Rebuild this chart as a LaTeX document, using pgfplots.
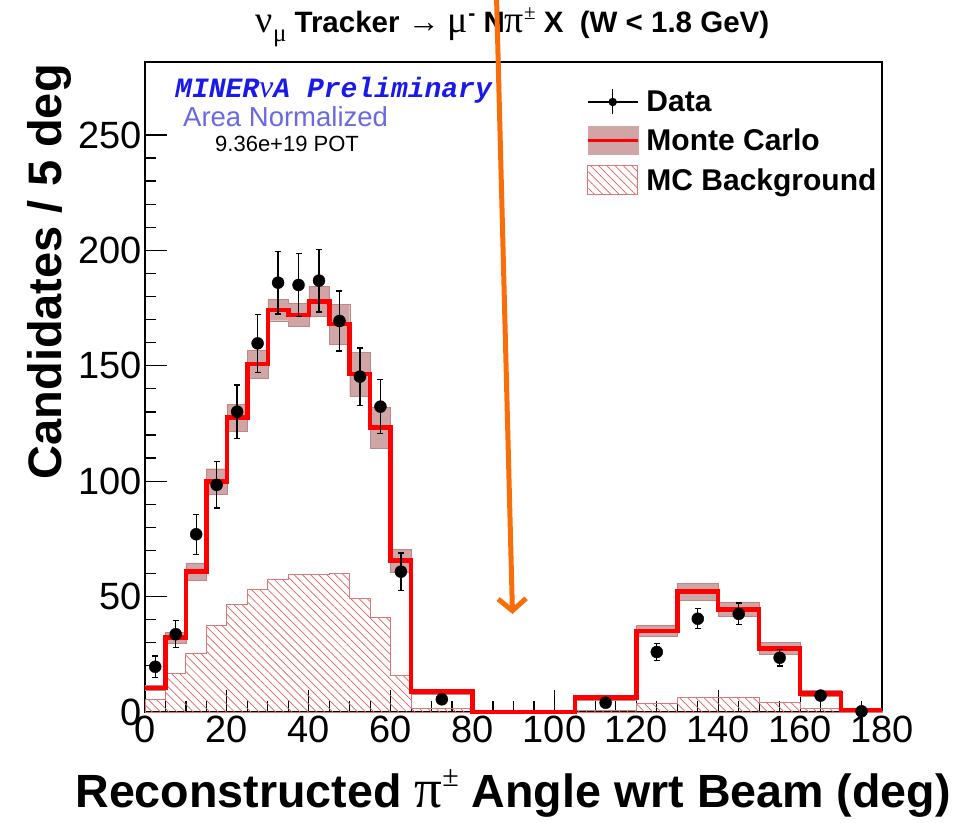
\documentclass[border=0pt]{standalone}
\usepackage{fontspec}
\setmainfont{Liberation Sans}
\newfontfamily\grfont{Liberation Serif}
\newfontfamily\cfont{Liberation Mono}
\newcommand{\gr}{\grfont\mdseries}
\usepackage{pgfplots}
\usepackage{pgfplotstable}
\pgfplotsset{compat=1.18}
\usepgfplotslibrary{fillbetween}
\usetikzlibrary{patterns.meta,arrows.meta}

\definecolor{band}{RGB}{208,165,165}
\definecolor{bandedge}{RGB}{190,135,135}
\definecolor{hatch}{RGB}{228,95,95}
\definecolor{hatchedge}{RGB}{220,120,120}
\definecolor{arrowor}{RGB}{250,110,10}
\definecolor{prelim}{RGB}{25,25,235}
\definecolor{areanorm}{RGB}{105,105,225}

\pgfplotstableread{
x mc err bg
0 10.5 1.0 5.5
5 32.2 2.2 16.8
10 60.8 3.8 25.4
15 99.8 5.6 37.3
20 127.5 5.8 46.6
25 150.8 6.1 52.9
30 174.2 4.7 57.6
35 172.0 4.9 59.4
40 177.8 6.5 59.4
45 168.0 8.7 60.1
50 146.4 9.5 49.3
55 123.3 8.9 40.9
60 65.6 5.0 16.0
65 8.8 1.0 1.6
80 0 0 0
105 6.3 1.0 0.8
120 35.1 2.4 3.5
130 52.1 3.6 6.2
140 44.5 3.2 6.2
150 27.6 2.6 4.0
160 8.1 1.2 1.4
170 0.9 0.4 0.3
180 0.9 0.4 0.3
}\mctab

\pgfplotstableread{
x y e
2.5 19.6 4.6
7.5 33.7 5.9
12.5 77.0 8.7
17.5 98.4 10.0
22.5 130.1 11.5
27.5 159.7 12.5
32.5 186.0 13.6
37.5 185.0 13.6
42.5 186.9 13.6
47.5 169.4 13.0
52.5 145.3 12.4
57.5 132.3 11.6
62.5 60.8 8.1
72.5 5.5 1.4
112.5 4.0 1.0
125 26.0 3.6
135 40.4 4.3
145 42.5 4.7
155 23.5 3.6
165 7.1 2.0
175 0.3 0.5
}\datatab

\begin{document}
\begin{tikzpicture}
\begin{axis}[
  at={(0,0)}, anchor=south west,
  scale only axis, width=737pt, height=650pt,
  xmin=0, xmax=180, ymin=0, ymax=281.6,
  xtick={0,20,...,180}, minor x tick num=3,
  ytick={0,50,...,250}, minor y tick num=4,
  xtick pos=bottom, ytick pos=left,
  tick align=inside,
  major tick length=22pt, minor tick length=11pt,
  axis line style={line width=2pt},
  every tick/.style={black, line width=1.2pt},
  tick label style={font=\fontsize{38}{40}\selectfont},
  /pgf/number format/assume math mode=true,
  clip=false,
  legend style={at={(0.594,0.962)}, anchor=north west, draw=none, fill=none,
    font=\bfseries\fontsize{30}{32}\selectfont, row sep=11pt,
    nodes={inner sep=1pt}, column sep=6pt},
  legend cell align=left,
]
\addplot[const plot, draw=bandedge, line width=0.4pt, name path=up, forget plot]
  table[x=x, y expr=\thisrow{mc}+\thisrow{err}] {\mctab};
\addplot[const plot, draw=bandedge, line width=0.4pt, name path=lo, forget plot]
  table[x=x, y expr=\thisrow{mc}-\thisrow{err}] {\mctab};
\addplot[band, forget plot] fill between[of=up and lo];
\addplot[const plot, draw=hatchedge, line width=0.9pt,
  pattern={Lines[angle=-45,distance=5.8pt,line width=0.7pt]}, pattern color=hatch, forget plot]
  table[x=x, y=bg] {\mctab} \closedcycle;
\addplot[const plot, red, line width=4.5pt, forget plot] table[x=x, y=mc] {\mctab};
\addplot[only marks, mark=*, mark size=6pt, black, forget plot,
  error bars/.cd, y dir=both, y explicit, error mark=-,
  error bar style={line width=1.3pt, black},
  error mark options={line width=1.3pt, mark size=3pt, black, rotate=90}]
  table[x=x, y=y, y error=e] {\datatab};

\addlegendimage{legend image code/.code={
  \draw[line width=1.2pt] (0pt,0pt) -- (50pt,0pt);
  \draw[line width=1.2pt] (25pt,-12.5pt) -- (25pt,12.5pt);
  \fill (25pt,0pt) circle (4pt);}}
\addlegendentry{Data}
\addlegendimage{legend image code/.code={
  \fill[band] (0pt,-14pt) rectangle (50pt,14pt);
  \draw[red, line width=3.5pt] (0pt,0pt) -- (50pt,0pt);}}
\addlegendentry{Monte Carlo}
\addlegendimage{legend image code/.code={
  \draw[hatchedge, line width=0.9pt, pattern={Lines[angle=-45,distance=5.8pt,line width=0.7pt]}, pattern color=hatch]
   (0pt,-14.5pt) rectangle (50pt,14.5pt);}}
\addlegendentry{MC Background}
\end{axis}

% texts
\node[anchor=base, font=\bfseries\fontsize{29.5}{31}\selectfont] at (367.5pt,679pt)
  {{\gr\fontsize{38}{38}\selectfont ν}\raisebox{-0.3em}{\gr\fontsize{25}{25}\selectfont μ} Tracker {\gr\fontsize{32}{32}\selectfont →} {\gr\fontsize{38}{38}\selectfont μ}\raisebox{0.42em}{\fontsize{21}{21}\selectfont -} N{\gr\fontsize{38}{38}\selectfont π}\raisebox{0.45em}{\gr\fontsize{21}{21}\selectfont ±} X\ \ (W < 1.8 GeV)};
\node[anchor=base west, inner sep=0pt, text=prelim, font=\cfont\bfseries\itshape\fontsize{28}{30}\selectfont] at (30pt,614pt)
  {MINER{\gr\itshape\fontsize{32}{32}\selectfont ν}A Preliminary};
\node[anchor=base west, inner sep=0pt, text=areanorm, font=\fontsize{27.5}{30}\selectfont] at (38pt,585pt) {Area Normalized};
\node[anchor=base west, inner sep=0pt, font=\fontsize{22}{24}\selectfont] at (70pt,560pt) {9.36e+19 POT};
\node[anchor=base east, inner sep=0pt, font=\bfseries\fontsize{46.6}{50}\selectfont] at (806pt,-95pt)
  {Reconstructed {\gr\fontsize{55}{55}\selectfont π}\raisebox{0.45em}{\gr\fontsize{30}{30}\selectfont ±} Angle wrt Beam (deg)};
\node[anchor=base east, rotate=90, inner sep=0pt, font=\bfseries\fontsize{47}{50}\selectfont] at (-83pt,648pt)
  {Candidates / 5 deg};
\draw[arrowor, line width=5pt, -{Straight Barb[length=12pt,width=28pt,line width=5pt]}] (351.5pt,716pt) -- (367.5pt,98pt);

\pgfresetboundingbox
\path (-145pt,-110pt) rectangle (832pt,712pt);
\end{tikzpicture}
\end{document}
